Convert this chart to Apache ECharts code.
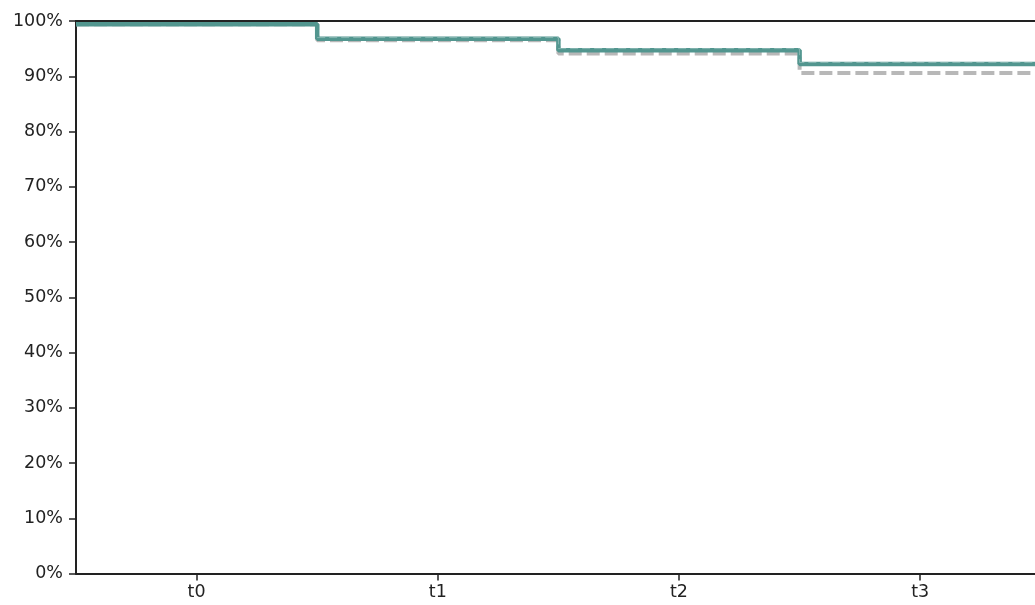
<!DOCTYPE html>
<html>
<head>
<meta charset="utf-8">
<script src="https://cdn.jsdelivr.net/npm/echarts@6/dist/echarts.min.js"></script>
<style>
html,body{margin:0;padding:0;background:#fff;}
#c{width:1035px;height:605px;}
</style>
</head>
<body>
<div id="c"></div>
<script>
const categories = ['t0', 't1', 't2', 't3'];
const mainValues = [99.4, 96.8, 94.7, 92.2];
const lowerValues = [99.4, 96.5, 94.1, 90.6];
const upperValues = [null, 97.0, 95.0, 92.5];
const yTicks = [0, 10, 20, 30, 40, 50, 60, 70, 80, 90, 100];

function stepData(vals) {
  const d = vals.map((v, i) => [i, v]);
  d.push([vals.length, vals[vals.length - 1]]);
  return d;
}

const font = 'DejaVu Sans';
const gridLeft = 76, bandPx = 241.2, gridW = 1035 - gridLeft;
const xMax = gridW / bandPx;
const centers = categories.map((c, i) => i + 0.5);

const chart = echarts.init(document.getElementById('c'), null, {renderer: 'canvas'});
chart.setOption({
  animation: false,
  grid: {left: gridLeft, top: 21, right: 0, height: 552.5, containLabel: false},
  xAxis: [
    {
      type: 'value', min: 0, max: xMax, position: 'bottom',
      axisLine: {show: true, onZero: false, lineStyle: {color: '#222', width: 2}},
      axisTick: {show: true, customValues: centers, length: 7, lineStyle: {color: '#222', width: 1.5}},
      axisLabel: {show: true, customValues: centers, color: '#222', fontFamily: font, fontSize: 17.5, margin: 10,
        formatter: v => categories[Math.round(v - 0.5)] || ''},
      splitLine: {show: false}
    },
    {
      type: 'value', min: 0, max: xMax, position: 'top',
      axisLine: {show: true, onZero: false, lineStyle: {color: '#222', width: 2}},
      axisTick: {show: false}, axisLabel: {show: false}, splitLine: {show: false}
    }
  ],
  yAxis: {
    type: 'value', min: 0, max: 100, interval: 10,
    axisLine: {show: true, lineStyle: {color: '#222', width: 2}},
    axisTick: {show: true, length: 7, lineStyle: {color: '#222', width: 1.5}},
    axisLabel: {color: '#222', fontFamily: font, fontSize: 17.5, margin: 13,
      formatter: v => yTicks.includes(v) ? v + '%' : ''},
    splitLine: {show: false}
  },
  series: [
    {
      type: 'line', xAxisIndex: 0, step: 'end', symbol: 'none', data: stepData(lowerValues),
      lineStyle: {color: '#b8b8b8', width: 4, type: [13, 5]}, z: 2
    },
    {
      type: 'line', xAxisIndex: 0, step: 'end', symbol: 'none', data: stepData(mainValues),
      lineStyle: {color: '#52968f', width: 4.5}, z: 3
    },
    {
      type: 'line', xAxisIndex: 0, step: 'end', symbol: 'none', connectNulls: false, data: stepData(upperValues),
      lineStyle: {color: 'rgba(255,255,255,0.3)', width: 1, type: [8, 4]}, z: 4
    }
  ]
});
</script>
</body>
</html>
